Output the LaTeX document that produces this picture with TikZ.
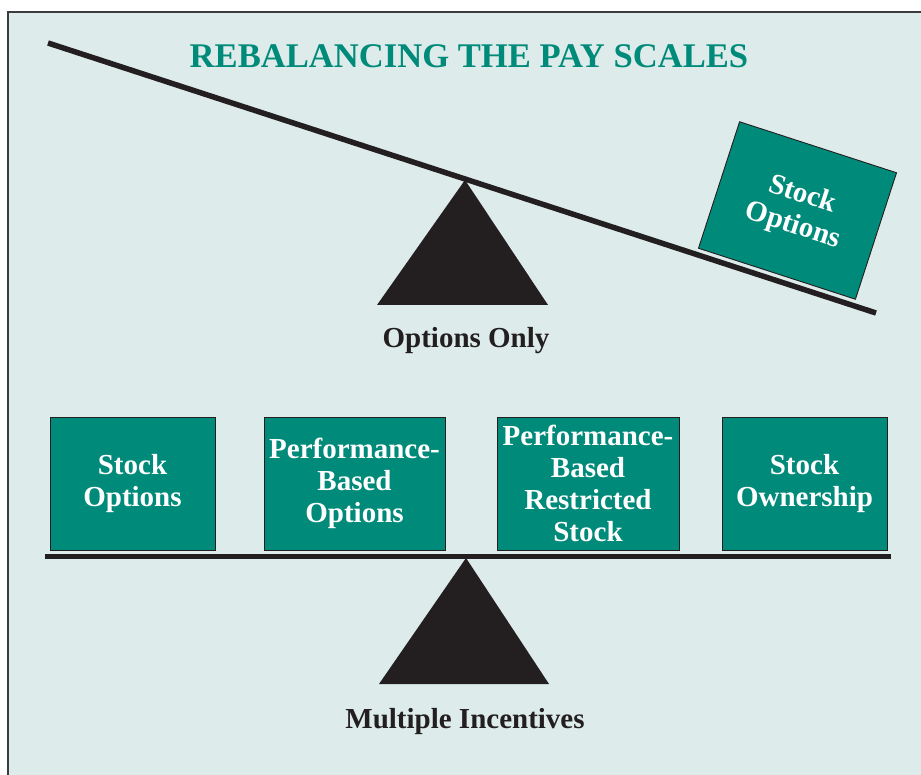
\documentclass[tikz,border=0pt]{standalone}
\usepackage{fontspec}
\setmainfont{Liberation Serif}
\definecolor{panelbg}{RGB}{221,236,234}
\definecolor{payteal}{RGB}{0,138,122}
\definecolor{ink}{RGB}{35,31,32}
\definecolor{framegray}{RGB}{60,60,62}
\begin{document}
\begin{tikzpicture}[x=1pt,y=-1pt,
  paybox/.style={draw=ink, line width=0.9pt, fill=payteal, text=white,
    font=\fontsize{29}{32}\selectfont\bfseries, align=center, inner sep=0pt,
    minimum height=133pt},
  caption/.style={text=ink, font=\fontsize{29}{32}\selectfont\bfseries, anchor=base, inner sep=0pt},
  beam/.style={draw=ink, line width=5.5pt},
  fulcrum/.style={fill=ink}]
\useasboundingbox (0,0) rectangle (921,775);
\fill[white] (0,0) rectangle (921,775);
% panel
\fill[panelbg] (8,12) rectangle (921,775);
\draw[framegray, line width=1.6pt] (8,775) -- (8,12) -- (921,12);

% title
\node[text=payteal, font=\fontsize{34.6}{38}\selectfont\bfseries, anchor=base, inner sep=0pt]
  (title) at (469,68) {REBALANCING THE PAY SCALES};

% upper scale: tipped beam
\coordinate (tbL) at (48,43);
\coordinate (tbR) at (876,313);
\draw[beam] (tbL) -- (tbR);
\coordinate (tApex) at (465,180);
\coordinate (tBaseL) at (377,305);
\coordinate (tBaseR) at (548,305);
\fill[fulcrum] (tApex) -- (tBaseR) -- (tBaseL) -- cycle;
\node[caption] (optonly) at (466,348) {Options Only};

\node[paybox, minimum width=165pt, rotate=-18] (tilted) at (797.5,210.5) {Stock\\Options};

% lower scale: level beam
\coordinate (bbL) at (45,556.5);
\coordinate (bbR) at (891,556.5);
\draw[beam] (bbL) -- (bbR);
\coordinate (bApex) at (466,558);
\coordinate (bBaseL) at (379,684);
\coordinate (bBaseR) at (549,684);
\fill[fulcrum] (bApex) -- (bBaseR) -- (bBaseL) -- cycle;
\node[caption] (multi) at (465,728) {Multiple Incentives};

\node[paybox, minimum width=165pt] (b1) at (132.5,483.5) {Stock\\Options};
\node[paybox, minimum width=181pt] (b2) at (354.5,483.5) {Performance-\\Based\\Options};
\node[paybox, minimum width=182pt] (b3) at (588,483.5) {Performance-\\Based\\Restricted\\Stock};
\node[paybox, minimum width=165pt] (b4) at (804.5,483.5) {Stock\\Ownership};
\end{tikzpicture}
\end{document}
